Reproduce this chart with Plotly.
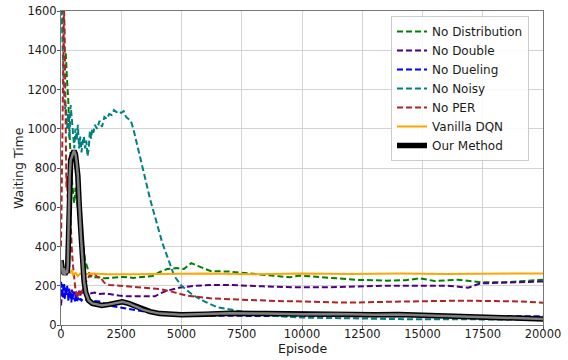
import plotly.graph_objects as go

# ---- data ----
ep_dist = [0, 30, 60, 100, 150, 200, 250, 300, 350, 400, 450, 500, 550, 600, 650, 700, 750, 800, 850, 900,
           1000, 1100, 1200, 1300, 1500, 1800, 2200, 2600, 3000, 3400, 3800, 4100, 4400, 4800, 5100, 5400,
           5700, 6200, 7000, 7600, 8250, 9000, 9500, 9900, 10500, 11200, 12300, 13500, 14300, 14900, 15500,
           16450, 17400, 18500, 19300, 20000]
no_distribution = [1750, 1650, 1550, 1450, 1390, 1380, 1250, 1150, 980, 820, 740, 680, 620, 700, 640, 600, 560,
                   540, 480, 420, 330, 290, 252, 240, 245, 238, 240, 245, 240, 245, 250, 270, 285, 290, 285, 315,
                   300, 275, 272, 265, 258, 248, 243, 252, 245, 240, 230, 226, 228, 238, 224, 231, 218, 218, 225, 231]

ep_double = [0, 50, 100, 150, 200, 250, 300, 350, 400, 450, 500, 550, 600, 650, 700, 750, 800, 850, 900, 1000,
             1200, 1400, 1600, 1800, 2000, 2400, 2800, 3400, 3900, 4100, 4400, 4900, 5400, 6200, 7000, 8400,
             9800, 11000, 12300, 13500, 15000, 16000, 16500, 16900, 17400, 18000, 18800, 19400, 20000]
no_double = [100, 170, 140, 190, 160, 185, 150, 175, 145, 180, 150, 170, 140, 165, 150, 175, 150, 178, 165, 172,
             160, 165, 158, 160, 158, 150, 146, 146, 146, 160, 175, 190, 198, 204, 204, 197,
             192, 192, 197, 200, 200, 200, 195, 190, 212, 214, 217, 218, 222]

ep_dueling = [0, 20, 40, 60, 80, 100, 130, 160, 190, 220, 250, 280, 310, 340, 370, 400, 430, 460, 500, 540, 580,
              620, 660, 700, 750, 800, 850, 900, 1000, 1200, 1400, 1600, 2000, 2400, 2800, 3400, 4100, 4800,
              5500, 7000, 9000, 11000, 13000, 15000, 17000, 19000, 20000]
no_dueling = [220, 160, 210, 140, 200, 170, 215, 130, 190, 150, 200, 175, 120, 185, 140, 170, 115, 160, 130,
              165, 120, 150, 115, 140, 120, 135, 125, 132, 128, 125, 122, 120, 99, 90, 82, 70, 56, 50,
              48, 46, 45, 44, 44, 44, 44, 44, 44]

ep_noisy = [0, 40, 80, 120, 160, 200, 250, 300, 350, 400, 450, 500, 550, 600, 650, 700, 750, 800, 850, 900, 950,
            1000, 1050, 1100, 1150, 1200, 1250, 1300, 1350, 1400, 1500, 1600, 1700, 1800, 1900, 2000, 2100,
            2200, 2300, 2400, 2500, 2600, 2700, 2800, 2900, 3000, 3300, 3700, 4200, 4700, 5000, 5500, 6000,
            6500, 7300, 8000, 9000, 10000, 12000, 14000, 16000, 18000, 20000]
no_noisy = [1700, 1500, 1300, 1200, 1100, 1120, 1000, 1080, 950, 1120, 1050, 980, 900, 1000, 940, 1020, 900,
            960, 880, 930, 960, 900, 940, 860, 900, 990, 950, 1000, 980, 1020, 1000, 1040, 1010, 1060, 1050,
            1075, 1070, 1095, 1085, 1090, 1080, 1090, 1060, 1050, 1040, 1000, 850, 640, 420, 250, 200, 150,
            117, 90, 73, 60, 45, 38, 33, 30, 29, 28, 28]

ep_per = [0, 50, 100, 125, 150, 175, 200, 225, 250, 275, 300, 325, 350, 400, 450, 500, 550, 600, 650, 700,
          750, 800, 900, 1000, 1100, 1200, 1300, 1400, 1500, 1650, 1800, 2000, 2500, 3000, 3400, 4100, 4600,
          5200, 6200, 7300, 8000, 9000, 10000, 11000, 11900, 13500, 15000, 16500, 18000, 19000, 20000]
no_per = [400, 800, 1400, 1620, 1500, 1100, 800, 700, 760, 650, 740, 560, 680, 500, 380, 300, 220, 180, 160,
          140, 170, 150, 180, 210, 235, 255, 250, 260, 245, 240, 215, 204, 198, 193, 190, 183, 170,
          150, 136, 130, 126, 122, 120, 118, 114, 118, 122, 124, 122, 120, 114]

ep_vanilla = [0, 100, 200, 250, 300, 350, 400, 450, 500, 600, 700, 800, 1000, 1200, 1500, 2000, 3000, 4000,
              5000, 6000, 8000, 10000, 12000, 14000, 16000, 18000, 20000]
vanilla_dqn = [310, 290, 280, 270, 285, 275, 268, 280, 255, 265, 250, 262, 258, 262, 260, 258, 258, 260,
               262, 262, 258, 262, 260, 262, 260, 262, 263]

ep_ours = [0, 40, 80, 120, 160, 200, 250, 280, 320, 360, 400, 450, 500, 540, 600, 650, 700, 760, 820, 900,
           960, 1030, 1150, 1300, 1450, 1700, 2000, 2300, 2540, 2800, 3100, 3400, 3700, 4100, 5000, 6000,
           7000, 8500, 10000, 11500, 13000, 14000, 15000, 16500, 17400, 18500, 20000]
our_method = [330, 300, 260, 290, 255, 275, 265, 300, 560, 760, 840, 860, 880, 888, 870, 830, 760, 600, 470,
              320, 220, 165, 125, 110, 107, 100, 105, 112, 118, 110, 95, 78, 68, 58, 52, 55,
              60, 58, 55, 56, 52, 54, 50, 45, 40, 35, 31]

x_ticks = [0, 2500, 5000, 7500, 10000, 12500, 15000, 17500, 20000]
y_ticks = [0, 200, 400, 600, 800, 1000, 1200, 1400, 1600]

DASH = "6px,3px"
fig = go.Figure()

series = [
    ("No Distribution", ep_dist, no_distribution, "green", DASH),
    ("No Double", ep_double, no_double, "indigo", DASH),
    ("No Dueling", ep_dueling, no_dueling, "blue", DASH),
    ("No Noisy", ep_noisy, no_noisy, "teal", DASH),
    ("No PER", ep_per, no_per, "firebrick", DASH),
    ("Vanilla DQN", ep_vanilla, vanilla_dqn, "orange", "solid"),
]
for name, xs, ys, col, dash in series:
    fig.add_trace(go.Scatter(x=xs, y=ys, mode="lines", name=name,
                             line=dict(color=col, width=2, dash=dash)))

fig.add_trace(go.Scatter(x=ep_ours, y=our_method, mode="lines", name="Our Method",
                         line=dict(color="black", width=5.5)))
fig.add_trace(go.Scatter(x=ep_ours, y=our_method, mode="lines", showlegend=False,
                         hoverinfo="skip", line=dict(color="#808080", width=2.5)))

axis_common = dict(showgrid=True, gridcolor="#d3d3d3", gridwidth=1, showline=True, linecolor="#777777",
                   linewidth=1, mirror=True, ticks="outside", ticklen=3, tickcolor="#555555",
                   tickfont=dict(family="DejaVu Sans", size=11.5, color="#1a1a1a"), zeroline=False,
                   automargin=False, ticklabeloverflow="allow")

W, H = 568, 360
ML, MR, MT, MB = 61, 25, 11, 35
plot_w = W - ML - MR
plot_h = H - MT - MB

fig.update_layout(
    width=W, height=H,
    margin=dict(l=ML, r=MR, t=MT, b=MB),
    paper_bgcolor="white", plot_bgcolor="white",
    font=dict(family="DejaVu Sans", color="#1a1a1a"),
    xaxis=dict(range=[0, 20000], tickvals=x_ticks, ticktext=[str(v) for v in x_ticks],
               ticklabelstandoff=-5, **axis_common),
    yaxis=dict(range=[0, 1600], tickvals=y_ticks, ticktext=[str(v) for v in y_ticks],
               ticklabelstandoff=-2, **axis_common),
    legend=dict(x=(529 - ML) / plot_w, y=1 - 5 / plot_h, xanchor="right", yanchor="top",
                bgcolor="rgba(255,255,255,0.85)", bordercolor="#cccccc", borderwidth=1,
                font=dict(size=12, family="DejaVu Sans"), tracegroupgap=0, itemwidth=30),
    showlegend=True,
    annotations=[
        dict(text="Episode", xref="paper", yref="paper", x=0.5, y=-23 / plot_h, xanchor="center",
             yanchor="middle", showarrow=False, font=dict(size=12.5)),
        dict(text="Waiting Time", xref="paper", yref="paper", x=-43 / plot_w, y=0.5, xanchor="center",
             yanchor="middle", textangle=-90, showarrow=False, font=dict(size=12.5)),
    ],
)

fig.write_html("out.html", config={"displayModeBar": False},
               post_script="document.body.style.margin='0';")
